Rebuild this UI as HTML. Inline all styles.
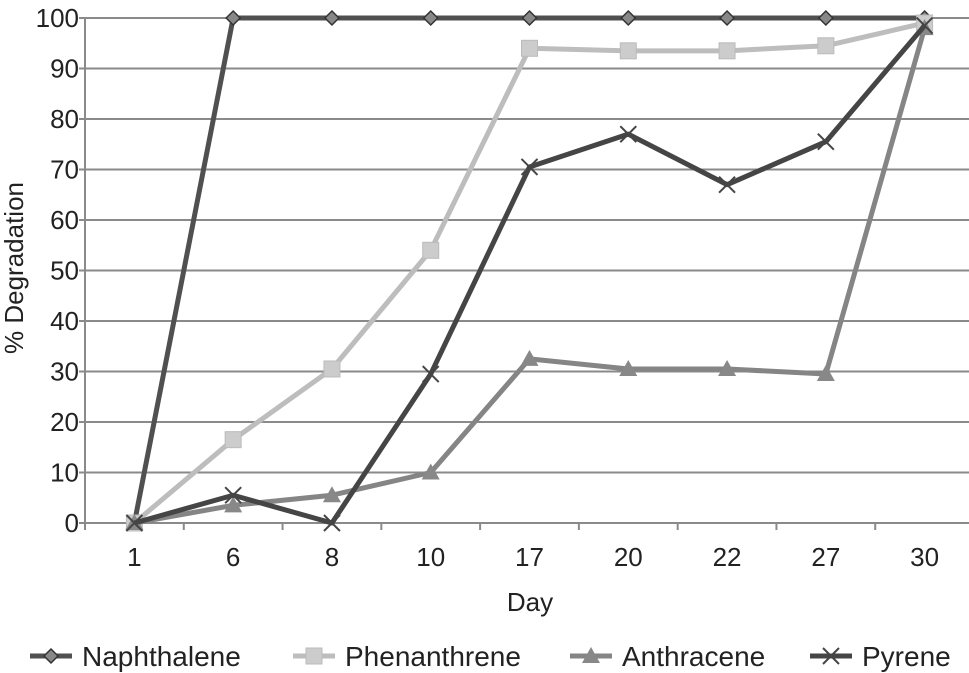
<!DOCTYPE html>
<html><head><meta charset="utf-8"><style>
body{margin:0;background:#fff;}
svg{display:block;font-family:"Liberation Sans",sans-serif;}
</style></head><body>
<svg id="chart" width="969" height="673"></svg>
<script>
const categories=["1","6","8","10","17","20","22","27","30"];
const yTicks=[0,10,20,30,40,50,60,70,80,90,100];
const naphthalene=[0,100,100,100,100,100,100,100,100];
const phenanthrene=[0,16.5,30.5,54,94,93.5,93.5,94.5,99];
const anthracene=[0,3.5,5.5,10,32.5,30.5,30.5,29.5,98];
const pyrene=[0,5.5,0,29.5,70.5,77,67,75.5,98.5];
const seriesNames=["Naphthalene","Phenanthrene","Anthracene","Pyrene"];
const NS="http://www.w3.org/2000/svg";
const svg=document.getElementById('chart');
const L=85,R=974,T=18,B=523;
const bw=(R-L)/categories.length;
function x(i){return L+bw*(i+0.5);}
function y(v){return B-(B-T)*v/100;}
function mk(tag,attrs,parent){const e=document.createElementNS(NS,tag);for(const k in attrs)e.setAttribute(k,attrs[k]);(parent||svg).appendChild(e);return e;}
yTicks.forEach(v=>{
 const g=mk('line',{x1:L-6,x2:R,y1:y(v),y2:y(v),stroke:'#8a8a8a','stroke-width':2});
 
 
 const t=mk('text',{x:L-6,y:y(v)+9,'text-anchor':'end','font-size':26,fill:'#222'});
 t.textContent=v;
 
 
});
const ax=mk('line',{x1:L,x2:L,y1:T,y2:B+6,stroke:'#8a8a8a','stroke-width':2});


for(let i=0;i<=categories.length;i++){mk('line',{x1:L+bw*i,x2:L+bw*i,y1:B,y2:B+7,stroke:'#8a8a8a','stroke-width':2});}
categories.forEach((c,i)=>{
 const t=mk('text',{x:x(i),y:B+43,'text-anchor':'middle','font-size':26,fill:'#222'});
 t.textContent=c;
 
 
});
const xt=mk('text',{x:530,y:611,'text-anchor':'middle','font-size':26,fill:'#222'});xt.textContent='Day';


const yt=mk('text',{x:0,y:0,'text-anchor':'middle','font-size':26,fill:'#222',transform:'translate(23,268) rotate(-90)'});yt.textContent='% Degradation';


function marker(type,cx,cy,col,g){
 if(type==='d')mk('polygon',{points:`${cx},${cy-7} ${cx+7},${cy} ${cx},${cy+7} ${cx-7},${cy}`,fill:'#888',stroke:'#333','stroke-width':1.5},g);
 else if(type==='s')mk('rect',{x:cx-8,y:cy-8,width:16,height:16,fill:'#ccc',stroke:'#bbb'},g);
 else if(type==='t')mk('polygon',{points:`${cx},${cy-9} ${cx+9},${cy+7} ${cx-9},${cy+7}`,fill:'#888'},g);
 else {mk('path',{d:`M${cx-8} ${cy-8}L${cx+8} ${cy+8}M${cx+8} ${cy-8}L${cx-8} ${cy+8}`,stroke:col,'stroke-width':2},g);}
}
const series=[[naphthalene,'#505050','d'],[phenanthrene,'#bdbdbd','s'],[anthracene,'#858585','t'],[pyrene,'#454545','x']];
series.forEach((s,k)=>{
 const g=mk('g',{});
 
 
 mk('polyline',{points:s[0].map((v,i)=>x(i)+','+y(v)).join(' '),fill:'none',stroke:s[1],'stroke-width':5,'stroke-linejoin':'round'},g);
 s[0].forEach((v,i)=>marker(s[2],x(i),y(v),s[1],g));
});
const lx=[30,293,570,810];
seriesNames.forEach((n,k)=>{
 const g=mk('g',{});
 
 
 mk('line',{x1:lx[k],x2:lx[k]+42,y1:656,y2:656,stroke:series[k][1],'stroke-width':5},g);
 marker(series[k][2],lx[k]+21,656,series[k][1],g);
 const t=mk('text',{x:lx[k]+52,y:666,'font-size':28,fill:'#222'},g);t.textContent=n;
});
</script>
</body></html>
